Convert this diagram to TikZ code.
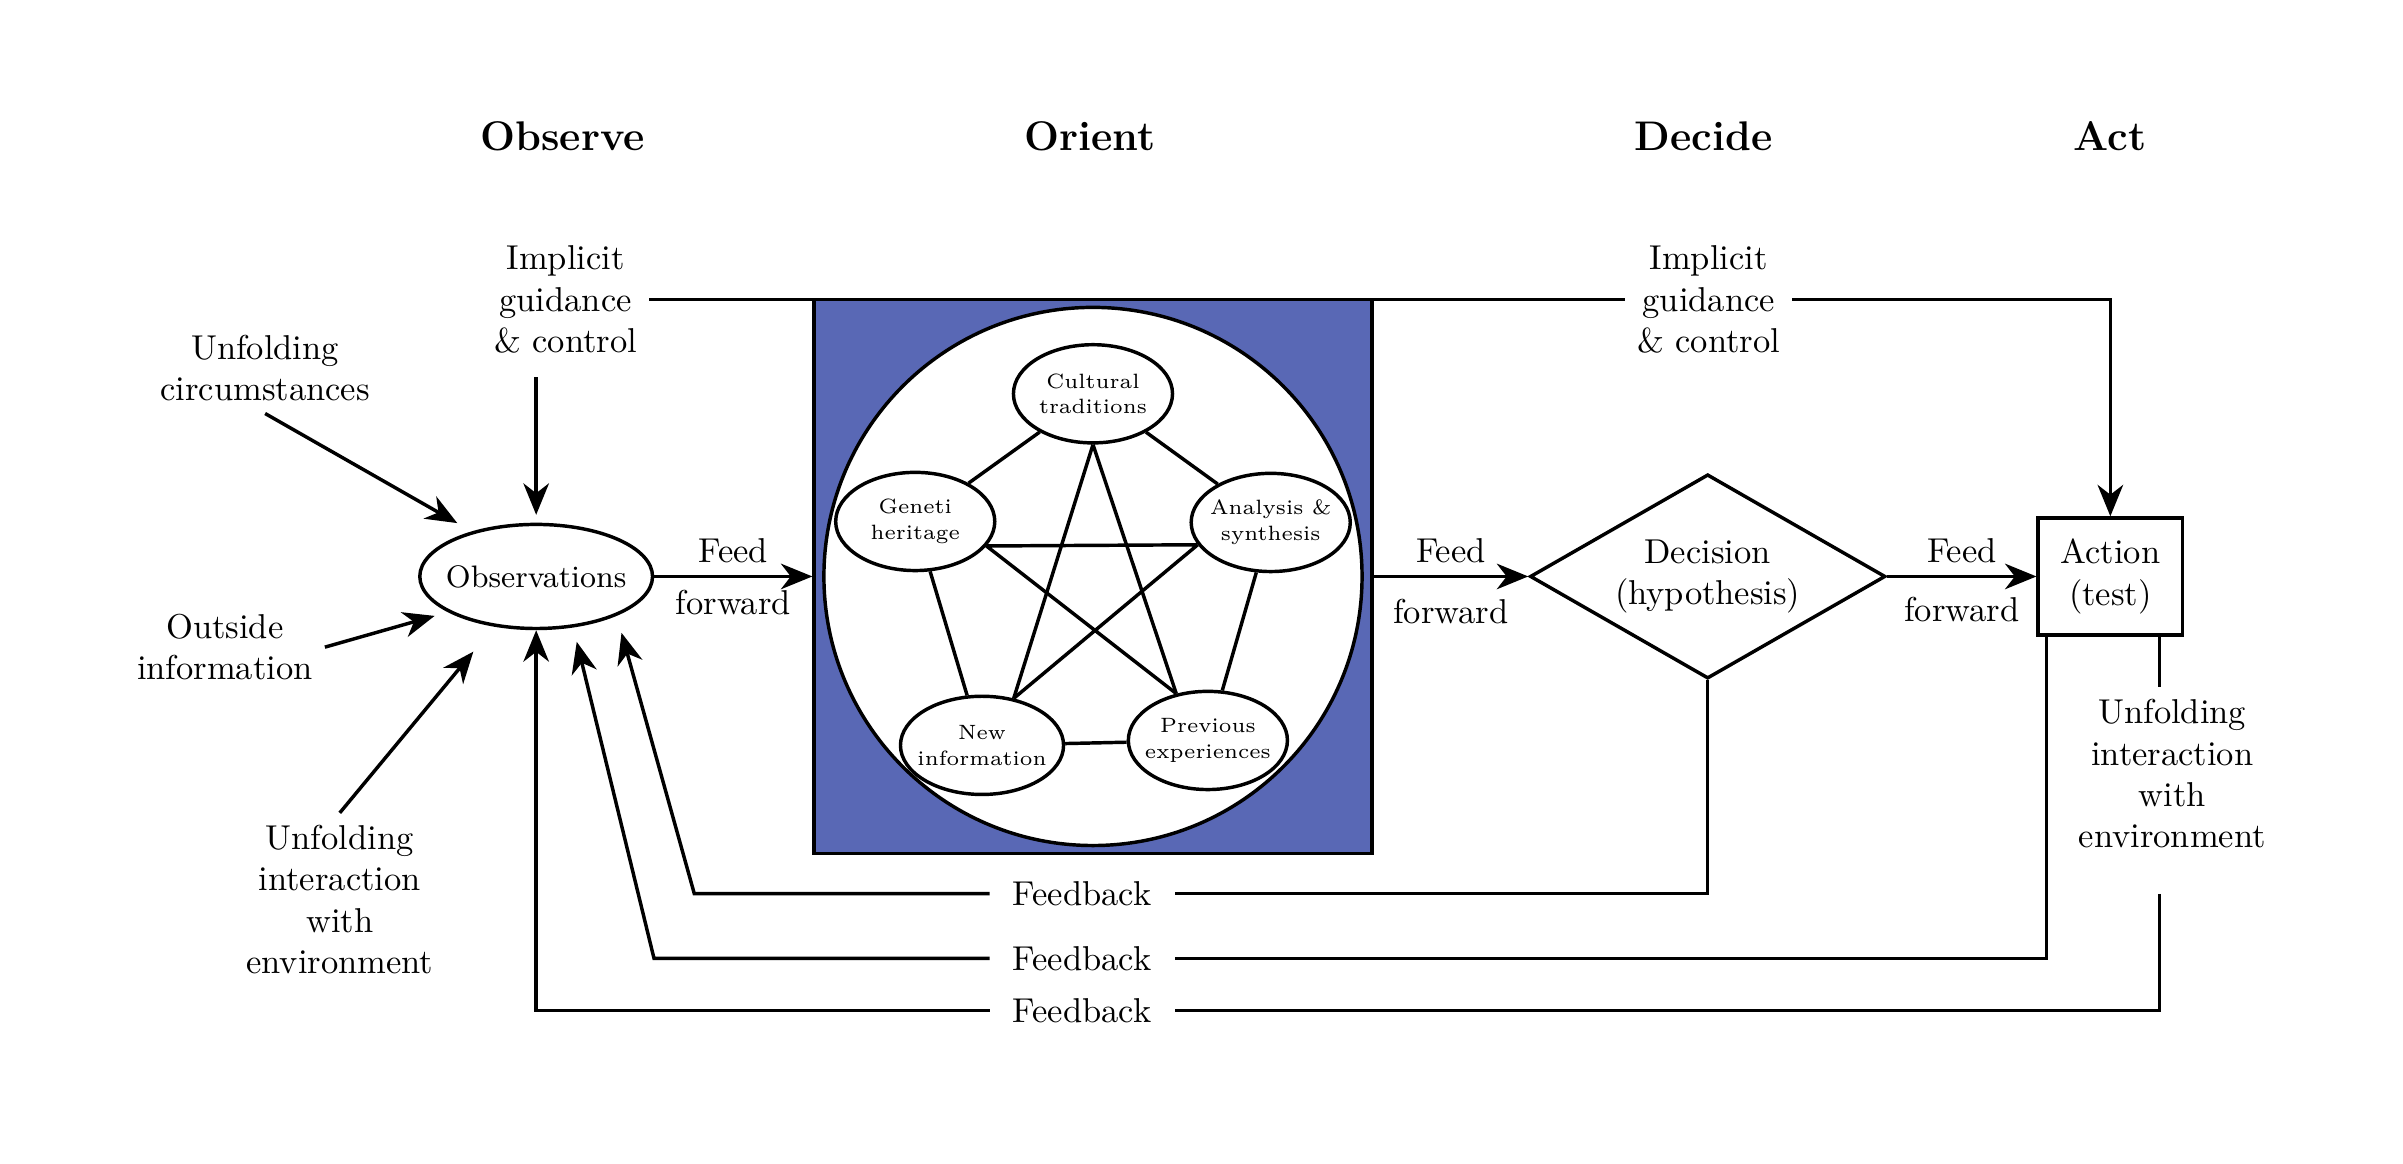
\documentclass[tikz,border=0pt]{standalone}
\usepackage{tikz}
\usetikzlibrary{arrows.meta,shapes.geometric}
\definecolor{orientblue}{RGB}{89,104,181}

\begin{document}
\begin{tikzpicture}[
  ln/.style={line width=1pt},
  arr/.style={ln,-{Stealth[length=3.2mm,width=2.6mm,inset=1mm]}},
  txt/.style={align=center},
  fbk/.style={inner xsep=2.3mm},
  idea/.style={ellipse,draw,ln,fill=white,align=center,font=\fontsize{6}{7.4}\selectfont,
    inner sep=0pt,inner xsep=-2pt,minimum width=1.62cm,minimum height=1cm}
]
\useasboundingbox (-5.46,-5.98) rectangle (19.01,5.87);

% Titles
\node[font=\large\bfseries] (tobs) at (0.27,4.48) {Observe};
\node[font=\large\bfseries] (tori) at (5.64,4.48) {Orient};
\node[font=\large\bfseries] (tdec) at (11.89,4.48) {Decide};
\node[font=\large\bfseries] (tact) at (16.03,4.48) {Act};

% Main boxes
\node[ellipse,draw,ln,font=\small,inner sep=0pt,inner xsep=-2.6pt,
  minimum width=2.37cm,minimum height=1.06cm] (obs) at (0,0) {Observations};
\node[draw,ln,fill=orientblue,minimum width=5.68cm,minimum height=5.64cm] (orient) at (5.67,0) {};
\node[circle,draw,ln,fill=white,minimum size=5.48cm] (mind) at (5.67,0) {};
\node[diamond,draw,ln,aspect=1.74,inner sep=0pt,minimum width=3.62cm,
  minimum height=2.08cm,align=center] (dec) at (11.93,0) {Decision\\(hypothesis)};
\node[draw,ln,align=center,minimum width=1.47cm,minimum height=1.19cm] (act) at (16.03,0) {Action\\(test)};

% Orient graph
\node[idea] (cult) at (5.67,1.86) {Cultural\\traditions};
\node[idea] (gen) at (3.86,0.56) {Geneti\\heritage};
\node[idea] (ana) at (7.48,0.55) {Analysis \&\\synthesis};
\node[idea] (new) at (4.54,-1.72) {New\\information};
\node[idea] (prev) at (6.84,-1.67) {Previous\\experiences};
\draw[ln] (cult) -- (gen) -- (new) -- (prev) -- (ana) -- (cult);
\draw[ln] (cult.south) -- (new.56) (cult.south) -- (prev.124);
\draw[ln] (gen.-19) -- (ana.197) (gen.-19) -- (prev.124) (ana.197) -- (new.56);

% Labels
\node[txt] (impl1) at (0.30,2.82) {Implicit\\guidance\\\& control};
\node[txt] (impl2) at (11.94,2.82) {Implicit\\guidance\\\& control};
\node[txt] (circ) at (-2.76,2.12) {Unfolding\\circumstances};
\node[txt] (outside) at (-3.17,-0.72) {Outside\\information};
\node[txt] (envl) at (-2.00,-3.29) {Unfolding\\interaction\\with\\environment};
\node[txt] (envr) at (16.66,-2.01) {Unfolding\\interaction\\with\\environment};
\node[fbk] (fb1) at (5.56,-3.23) {Feedback};
\node[fbk] (fb2) at (5.56,-3.89) {Feedback};
\node[fbk] (fb3) at (5.56,-4.42) {Feedback};
\coordinate (bend1) at (1.61,-3.23);
\coordinate (bend2) at (1.20,-3.89);
\coordinate (envin) at ([xshift=-2.5mm]act.south east);

% Feed forward
\draw[arr] (obs) -- (orient) node[midway,above] {Feed} node[midway,below] {forward};
\draw[arr] (orient) -- (dec) node[midway,above] {Feed} node[midway,below=1mm] {forward};
\draw[arr] (dec) -- (act) node[midway,above] {Feed} node[midway,below=0.8mm] {forward};

% Guidance and inputs
\draw[ln] (impl1) -- (impl2);
\draw[arr] (impl2) -| (act);
\draw[arr,shorten <=1.2mm,shorten >=0.8mm] (impl1.south -| obs) -- (obs);
\draw[arr,shorten >=1.7mm] (circ.south) -- (obs.145);
\draw[arr,shorten >=1.4mm] (outside.east) -- (obs.202);
\draw[arr,shorten >=3.3mm] (envl.north) -- (obs.230);

% Feedback
\draw[ln] (dec) |- (fb1);
\draw[arr,shorten >=1.8mm] (fb1) -- (bend1) -- (obs.-26);
\draw[ln] ([xshift=1mm]act.south west) |- (fb2);
\draw[arr,shorten >=1.5mm] (fb2) -- (bend2) -- (obs.-54);
\draw[ln] (envin) -- (envin |- envr.north);
\draw[ln] ([yshift=-3.4mm]envin |- envr.south) |- (fb3);
\draw[arr] (fb3) -| (obs);

\end{tikzpicture}
\end{document}
